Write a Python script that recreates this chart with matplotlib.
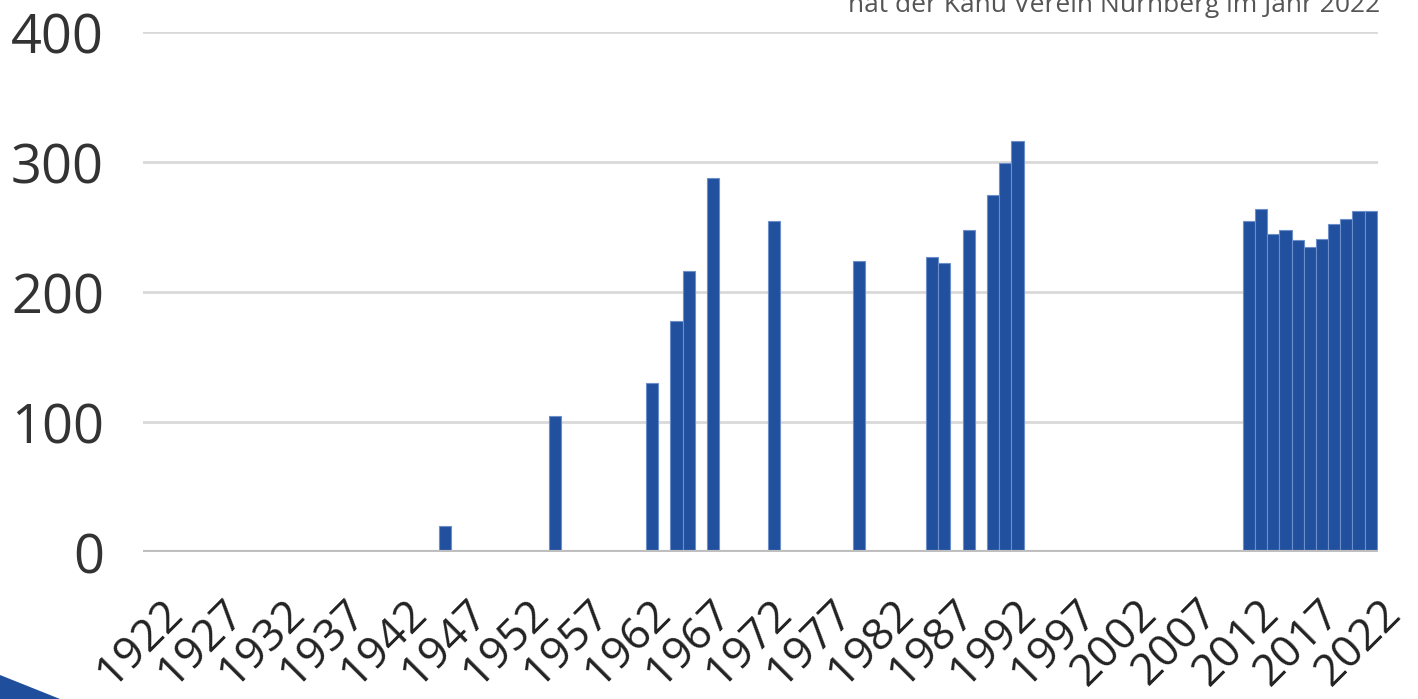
import numpy as np
import matplotlib
matplotlib.use("Agg")
import matplotlib.pyplot as plt
import matplotlib.transforms as mtransforms
from matplotlib.patches import Polygon

# Mitgliederzahlen je Jahr (nur Jahre mit Angabe)
jahre = [1946, 1955, 1963, 1965, 1966, 1968, 1973, 1980, 1986, 1987,
         1989, 1991, 1992, 1993,
         2012, 2013, 2014, 2015, 2016, 2017, 2018, 2019, 2020, 2021, 2022]
mitglieder = [20, 105, 130, 178, 216, 288, 255, 224, 227, 222,
              248, 275, 299, 316,
              255, 264, 245, 248, 240, 235, 241, 252, 256, 262, 262]

tick_jahre = list(range(1922, 2023, 5))
y_ticks = [0, 100, 200, 300, 400]
untertitel = "hat der Kanu Verein Nürnberg im Jahr 2022"

plt.rcParams['font.family'] = ['Open Sans', 'DejaVu Sans']

fig = plt.figure(figsize=(14.18, 6.99), dpi=100)
ax = fig.add_axes([0.1008, 0.2103, 0.8710, 0.7439])

ax.bar(jahre, mitglieder, width=1.0, color='#21509e',
       edgecolor='#6c8fcc', linewidth=0.8, zorder=3)

ax.set_xlim(1921.2, 2022.6)
ax.set_ylim(0, 400)
ax.set_yticks(y_ticks)
ax.set_yticklabels([str(v) for v in y_ticks])
ax.tick_params(axis='y', length=0, pad=28, labelsize=39, labelcolor='#333333')

# Gitterlinien
for v in y_ticks[1:]:
    ax.axhline(v, color='#d9d9d9', linewidth=2, zorder=1)
ax.axhline(0, color='#bfbfbf', linewidth=3, zorder=4)

for s in ax.spines.values():
    s.set_visible(False)

ax.set_xticks(tick_jahre)
ax.set_xticklabels([str(j) for j in tick_jahre])
ax.tick_params(axis='x', length=0, pad=28, labelsize=32, labelcolor='#222222')
offset = mtransforms.ScaledTranslation(8 / 100, 0, fig.dpi_scale_trans)
for lbl in ax.get_xticklabels():
    lbl.set_rotation(45)
    lbl.set_rotation_mode('anchor')
    lbl.set_ha('right')
    lbl.set_va('top')
    lbl.set_transform(lbl.get_transform() + offset)

# abgeschnittene Überschrift oben rechts
fig.text(1380 / 1418, 1 - 12 / 699, untertitel, ha='right', va='baseline',
         fontsize=19, color='#555555')

# blaues Dreieck unten links
dreieck = Polygon([[0, 0], [0, 24 / 699], [60 / 1418, 0]], closed=True,
                  transform=fig.transFigure, facecolor='#1f4e9c',
                  edgecolor='none')
fig.patches.append(dreieck)

fig.savefig("out.png", dpi=100)
